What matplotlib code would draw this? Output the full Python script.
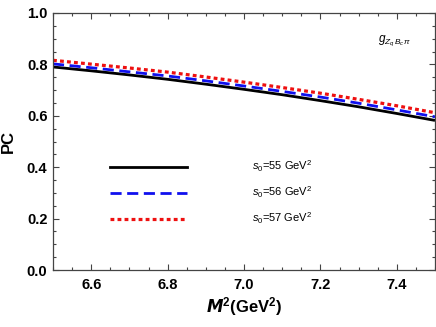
import matplotlib
matplotlib.use("Agg")
import matplotlib.pyplot as plt
import numpy as np
from matplotlib.ticker import MultipleLocator

plt.rcParams['font.family'] = ['Liberation Sans', 'DejaVu Sans']
plt.rcParams['mathtext.fontset'] = 'custom'
plt.rcParams['mathtext.rm'] = 'Liberation Sans'
plt.rcParams['mathtext.it'] = 'Liberation Sans:italic'
plt.rcParams['mathtext.bf'] = 'Liberation Sans:bold'

M2 = [6.5, 6.6, 6.7, 6.8, 6.9, 7.0, 7.1, 7.2, 7.3, 7.4, 7.5]
pc_s55 = [0.790, 0.775, 0.759, 0.742, 0.723, 0.703, 0.682, 0.659, 0.635, 0.609, 0.582]
pc_s56 = [0.802, 0.787, 0.771, 0.755, 0.736, 0.716, 0.695, 0.673, 0.649, 0.623, 0.596]
pc_s57 = [0.816, 0.801, 0.786, 0.770, 0.751, 0.731, 0.710, 0.688, 0.664, 0.639, 0.612]
labels = [r'$s_0$=55 GeV$^2$', r'$s_0$=56 GeV$^2$', r'$s_0$=57 GeV$^2$']
xticks = [6.6, 6.8, 7.0, 7.2, 7.4]
yticks = [0.0, 0.2, 0.4, 0.6, 0.8, 1.0]

fig = plt.figure(figsize=(4.36, 3.27), dpi=100)
ax = fig.add_axes([53/436, 1-270/327, (435-53)/436, (270-13)/327])

ax.plot(M2, pc_s55, color='black', lw=2.0, solid_capstyle='butt')
ax.plot(M2, pc_s56, color='#1010ee', lw=2.0, dashes=(4, 2))
ax.plot(M2, pc_s57, color='#ee1010', lw=2.3, dashes=(1.2, 1.0))

ax.set_xlim(6.5, 7.5)
ax.set_ylim(0.0, 1.0)
ax.set_xticks(xticks)
ax.set_yticks(yticks)
ax.xaxis.set_minor_locator(MultipleLocator(0.05))
ax.yaxis.set_minor_locator(MultipleLocator(0.05))
ax.tick_params(which='both', direction='in', top=True, right=True, color='#444444', width=0.8)
ax.tick_params(which='major', length=4)
ax.tick_params(which='minor', length=2.5)
ax.set_xticklabels(['%.1f' % v for v in xticks], fontweight='bold', fontsize=10.5)
ax.set_yticklabels(['%.1f' % v for v in yticks], fontweight='bold', fontsize=10.5)
ax.tick_params(axis='x', pad=6)
ax.tick_params(axis='y', pad=4)
for s in ax.spines.values():
    s.set_color('#444444')
    s.set_linewidth(0.9)

ax.set_ylabel('PC', fontweight='bold', fontsize=12, labelpad=8)
ax.set_xlabel(r'$\boldsymbol{M}$$^{\mathbf{2}}$(GeV$^{\mathbf{2}}$)', fontsize=12, fontweight='bold', labelpad=2)

# legend drawn manually in data coords
leg_x = [6.648, 6.851]
leg_y = [0.40, 0.30, 0.20]
styles = [dict(color='black', lw=2.0),
          dict(color='#1010ee', lw=2.0, dashes=(4, 2)),
          dict(color='#ee1010', lw=2.3, dashes=(1.2, 1.0))]
for yy, st, lab in zip(leg_y, styles, labels):
    ax.plot(leg_x, [yy, yy], **st)
    ax.text(7.02, yy + 0.003, lab, fontsize=8, va='center', ha='left')

ax.text(7.35, 0.89, r'$g_{Z_q\,B_c\,\pi}$', fontsize=8.5, ha='left', va='center')

fig.savefig('out.png', dpi=100)
